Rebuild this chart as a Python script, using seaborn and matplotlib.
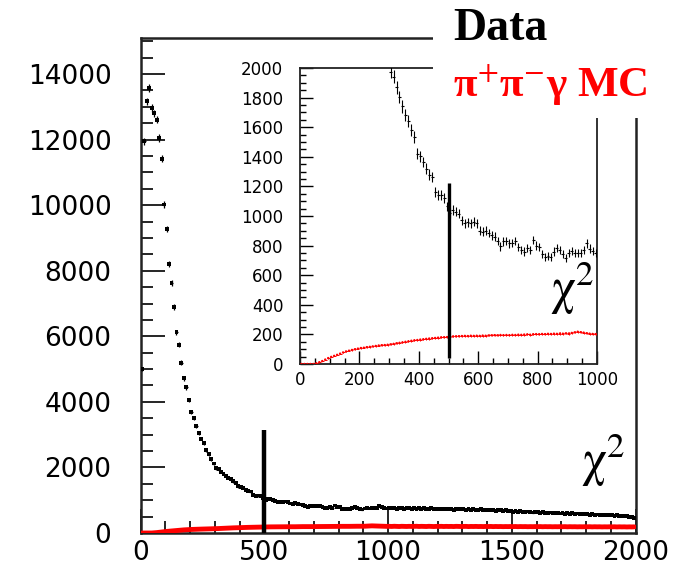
import numpy as np
import pandas as pd
import matplotlib
matplotlib.use("Agg")
import matplotlib.pyplot as plt
import seaborn as sns
from matplotlib.ticker import MultipleLocator
from matplotlib.patches import Rectangle

# ---------------- data (bins of width 10 in chi2) ----------------
bin_width = 10

data_counts = [
    5000, 11950, 13170, 13580, 12970, 12800, 12610, 12050, 11410, 10020,
    9270, 8200, 7620, 6890, 6120, 5740, 5200, 4720, 4440, 4060,
    3680, 3500, 3250, 3050, 2880, 2740, 2530, 2400, 2250, 2120,
    1975, 1940, 1870, 1805, 1740, 1680, 1640, 1580, 1535, 1420,
    1405, 1365, 1320, 1280, 1265, 1160, 1140, 1145, 1120, 1065,
    1020, 1040, 1030, 1015, 970, 950, 958, 950, 962, 950,
    900, 895, 902, 885, 870, 860, 830, 795, 828, 832,
    815, 818, 830, 792, 770, 760, 782, 772, 838, 800,
    790, 742, 726, 732, 725, 760, 782, 770, 742, 716,
    748, 762, 748, 750, 752, 770, 815, 780, 762, 748,
    760, 750, 765, 745, 770, 755, 740, 760, 750, 745,
    755, 740, 750, 735, 760, 745, 730, 750, 740, 735,
    740, 725, 745, 720, 735, 730, 715, 740, 725, 720,
    725, 710, 730, 705, 720, 715, 700, 725, 710, 700,
    705, 690, 710, 685, 700, 695, 680, 700, 670, 660,
    650, 665, 640, 660, 645, 630, 655, 640, 625, 645,
    630, 615, 640, 620, 605, 625, 610, 600, 620, 595,
    605, 590, 610, 585, 600, 580, 595, 575, 590, 570,
    580, 560, 575, 550, 565, 545, 560, 540, 550, 535,
    545, 525, 540, 515, 530, 510, 520, 495, 480, 450,
]

mc_counts = [
    0, 0, 0, 0, 0, 5, 12, 20, 30, 40,
    48, 55, 62, 70, 78, 85, 90, 95, 100, 104,
    108, 110, 114, 116, 119, 122, 125, 127, 128, 130,
    133, 136, 140, 143, 146, 150, 153, 157, 160, 162,
    165, 167, 170, 172, 174, 176, 178, 180, 181, 182,
    184, 186, 187, 188, 189, 190, 189, 191, 190, 191,
    190, 192, 191, 193, 194, 195, 194, 196, 195, 196,
    195, 197, 196, 198, 197, 199, 200, 198, 201, 202,
    201, 203, 202, 204, 203, 205, 204, 206, 205, 207,
    206, 210, 214, 218, 215, 212, 208, 205, 203, 202,
    203, 200, 205, 201, 198, 204, 202, 199, 203, 200,
    201, 205, 199, 203, 200, 198, 204, 201, 197, 202,
    200, 203, 198, 202, 199, 201, 197, 203, 200, 198,
    199, 202, 196, 200, 198, 201, 197, 199, 196, 200,
    197, 200, 195, 199, 196, 198, 194, 197, 195, 198,
    195, 198, 193, 197, 194, 196, 192, 195, 193, 196,
    193, 196, 191, 195, 192, 194, 190, 193, 191, 194,
    191, 194, 189, 193, 190, 192, 188, 191, 189, 192,
    189, 192, 187, 191, 188, 190, 186, 189, 187, 190,
    187, 190, 185, 189, 186, 188, 184, 187, 185, 188,
]

main_xticks = [0, 500, 1000, 1500, 2000]
main_yticks = [0, 2000, 4000, 6000, 8000, 10000, 12000, 14000]
inset_xticks = [0, 200, 400, 600, 800, 1000]
inset_yticks = [0, 200, 400, 600, 800, 1000, 1200, 1400, 1600, 1800, 2000]

cut_value = 500
cut_main_top = 3150
cut_inset_bottom = 40
cut_inset_top = 1220

legend_data = "Data"
legend_mc = r"π$^{+}$π$^{-}$γ MC"
axis_label = r"$\mathrm{\chi}^{2}$"

# ---------------- build table ----------------
centers = bin_width / 2 + bin_width * np.arange(len(data_counts))
df = pd.DataFrame({"chi2": centers, "data": data_counts, "mc": mc_counts})
df["data_err"] = np.sqrt(df["data"])
df["mc_err"] = np.sqrt(df["mc"])

# ---------------- style ----------------
sns.set_style("ticks")
plt.rcParams["font.family"] = ["DejaVu Sans"]
plt.rcParams["mathtext.fontset"] = "stix"

W, H = 682, 572
fig = plt.figure(figsize=(W / 100, H / 100), dpi=100)
fig.patch.set_facecolor("white")


def fx(px):
    return px / W


def fy(py):
    return 1 - py / H


ax = fig.add_axes([fx(140.6), fy(533), fx(635.5) - fx(140.6), fy(38) - fy(533)])
ins = fig.add_axes([fx(300), fy(364), fx(597) - fx(300), fy(68) - fy(364)])

# ---------------- main plot ----------------
ax.errorbar(df["chi2"], df["data"], yerr=df["data_err"], xerr=bin_width / 2,
            fmt="none", ecolor="black", elinewidth=0.9, zorder=3)
sns.scatterplot(data=df, x="chi2", y="data", ax=ax, color="black", s=8,
                marker="s", edgecolor="none", zorder=4, legend=False)
ax.errorbar(df["chi2"], df["mc"], yerr=df["mc_err"] * 2, fmt="none",
            ecolor="#ff6060", elinewidth=1.0, zorder=3)
sns.lineplot(data=df, x="chi2", y="mc", ax=ax, color="red", lw=3.5,
             zorder=4, legend=False)
ax.vlines(cut_value, 0, cut_main_top, colors="black", lw=3.2, zorder=5)

ax.set_xlim(0, 2000)
ax.set_ylim(0, 15100)
ax.set_xticks(main_xticks)
ax.set_yticks(main_yticks)
ax.xaxis.set_minor_locator(MultipleLocator(100))
ax.yaxis.set_minor_locator(MultipleLocator(500))
ax.set_xlabel("")
ax.set_ylabel("")
ax.tick_params(axis="both", which="both", direction="in", top=False, right=False,
               colors="black", width=1.2)
ax.tick_params(axis="both", which="major", length=17)
ax.tick_params(axis="both", which="minor", length=8.5)
ax.tick_params(axis="y", which="major", labelsize=19, pad=21)
ax.tick_params(axis="x", which="major", labelsize=19, pad=5)
for side, sp in ax.spines.items():
    sp.set_visible(True)
    sp.set_color("#222222")
    sp.set_linewidth(1.8)

# ---------------- inset ----------------
ins.errorbar(df["chi2"], df["data"], yerr=df["data_err"], xerr=bin_width / 2,
             fmt="none", ecolor="black", elinewidth=0.8, zorder=3)
ins.errorbar(df["chi2"], df["mc"], yerr=df["mc_err"] * 0.5, xerr=bin_width / 2,
             fmt="none", ecolor="red", elinewidth=0.7, zorder=3)
sns.scatterplot(data=df, x="chi2", y="mc", ax=ins, color="red", s=3,
                edgecolor="none", zorder=4, legend=False)
ins.vlines(cut_value, cut_inset_bottom, cut_inset_top, colors="black", lw=2.4, zorder=5)

ins.set_xlim(0, 1000)
ins.set_ylim(0, 2000)
ins.set_xticks(inset_xticks)
ins.set_yticks(inset_yticks)
ins.xaxis.set_minor_locator(MultipleLocator(50))
ins.yaxis.set_minor_locator(MultipleLocator(50))
ins.set_xlabel("")
ins.set_ylabel("")
ins.tick_params(axis="both", which="both", direction="in", top=False, right=False,
                colors="black", width=1.0)
ins.tick_params(axis="both", which="major", length=9.5)
ins.tick_params(axis="both", which="minor", length=4.5)
ins.tick_params(axis="y", which="major", labelsize=12, pad=12)
ins.tick_params(axis="x", which="major", labelsize=12, pad=5)
for side, sp in ins.spines.items():
    sp.set_visible(True)
    sp.set_color("#222222")
    sp.set_linewidth(1.3)

# ---------------- legend area (white box over top right) ----------------
serif = ["Liberation Serif", "DejaVu Serif"]
fig.add_artist(Rectangle((fx(433), fy(118)), 1, 1, transform=fig.transFigure,
                         facecolor="white", edgecolor="none", zorder=10))
fig.text(fx(453), fy(40), legend_data, family=serif,
         weight="bold", fontsize=33, color="black", ha="left", va="baseline", zorder=11)
fig.text(fx(453), fy(97), legend_mc, family=serif,
         weight="bold", fontsize=31, color="red", ha="left", va="baseline", zorder=11)

# chi2 labels
fig.text(fx(550), fy(304), axis_label, fontsize=36, color="black",
         ha="left", va="baseline", zorder=11)
fig.text(fx(581), fy(476), axis_label, fontsize=36, color="black",
         ha="left", va="baseline", zorder=11)

fig.savefig("out.png", dpi=100, facecolor="white")
